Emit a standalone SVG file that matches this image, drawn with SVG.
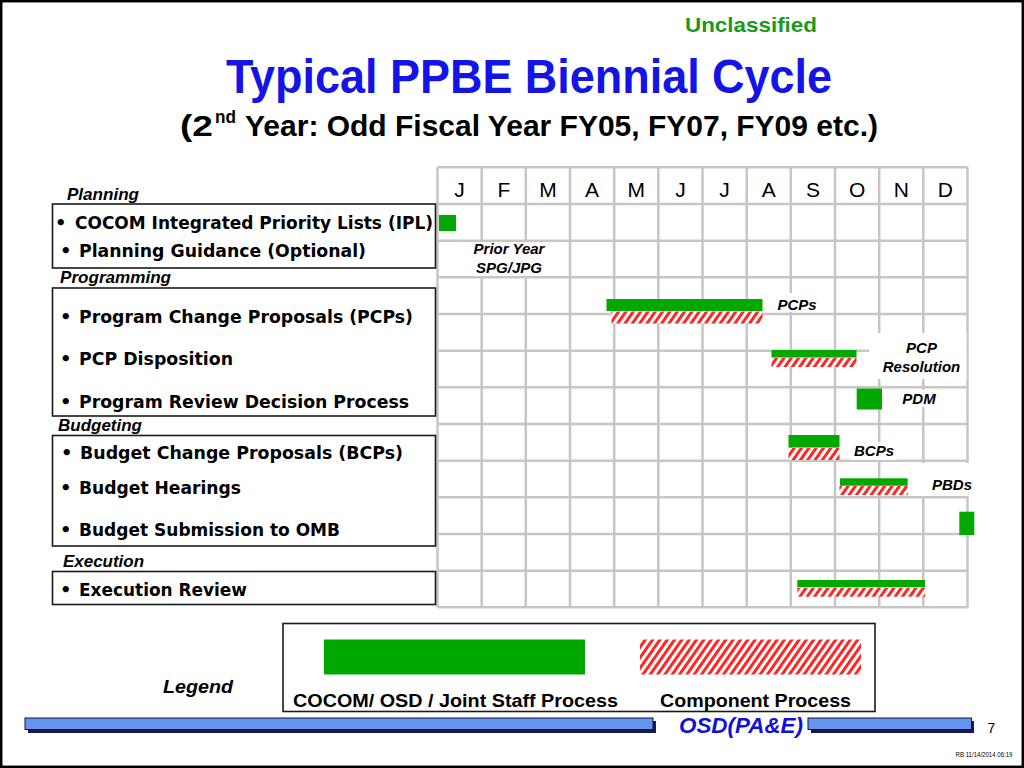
<svg xmlns="http://www.w3.org/2000/svg" width="1024" height="768" viewBox="0 0 1024 768">
<defs>
<pattern id="hatch" width="6" height="6" patternUnits="userSpaceOnUse" patternTransform="rotate(35)">
<rect width="6" height="6" fill="#ffffff"/>
<rect width="3" height="6" fill="#ff2626"/>
</pattern>
<style>
.grid line{stroke:#c6c6c6;stroke-width:2.5}
.box{fill:none;stroke:#1a1a1a;stroke-width:1.6}
.item{font-family:"DejaVu Sans","Liberation Sans",sans-serif;font-weight:bold;font-size:18px;fill:#000}
.head{font-family:"Liberation Sans",Arial,sans-serif;font-weight:bold;font-style:italic;font-size:17px;fill:#000}
.month{font-family:"Liberation Sans",Arial,sans-serif;font-size:21px;fill:#000;text-anchor:middle}
.lbl{font-family:"Liberation Sans",Arial,sans-serif;font-weight:bold;font-style:italic;font-size:15px;fill:#000;text-anchor:middle}
.g{fill:#00a800}
.h{fill:url(#hatch)}
.wb{fill:#ffffff}
.leg{font-family:"Liberation Sans",Arial,sans-serif;font-weight:bold;font-size:19px;fill:#000;text-anchor:middle}
.bar{fill:#6495ee;stroke:#10104a;stroke-width:1}
.shadow{fill:#1a1a50}
</style>
</defs>
<rect x="0" y="0" width="1024" height="768" fill="#ffffff"/>
<rect x="1.2" y="1.2" width="1021.6" height="765.6" fill="none" stroke="#000" stroke-width="2.5"/>

<g id="header">
<text x="751" y="32" font-family="Liberation Sans,Arial,sans-serif" font-weight="bold" font-size="21" fill="#1a9a1a" text-anchor="middle" textLength="132" lengthAdjust="spacingAndGlyphs">Unclassified</text>
<text x="529" y="93" font-family="Liberation Sans,Arial,sans-serif" font-weight="bold" font-size="48" fill="#1414e6" text-anchor="middle" textLength="606" lengthAdjust="spacingAndGlyphs">Typical PPBE Biennial Cycle</text>
<text x="180" y="136" font-family="Liberation Sans,Arial,sans-serif" font-weight="bold" font-size="30" fill="#000" textLength="33" lengthAdjust="spacingAndGlyphs">(2</text>
<text x="215" y="123" font-family="Liberation Sans,Arial,sans-serif" font-weight="bold" font-size="18" fill="#000" textLength="21" lengthAdjust="spacingAndGlyphs">nd</text>
<text x="245" y="136" font-family="Liberation Sans,Arial,sans-serif" font-weight="bold" font-size="30" fill="#000" textLength="633" lengthAdjust="spacingAndGlyphs">Year: Odd Fiscal Year FY05, FY07, FY09 etc.)</text>
</g>

<g id="grid" class="grid">
<line x1="437.5" y1="167.3" x2="437.5" y2="607.3"/>
<line x1="481.7" y1="167.3" x2="481.7" y2="607.3"/>
<line x1="525.8" y1="167.3" x2="525.8" y2="607.3"/>
<line x1="570" y1="167.3" x2="570" y2="607.3"/>
<line x1="614.2" y1="167.3" x2="614.2" y2="607.3"/>
<line x1="658.3" y1="167.3" x2="658.3" y2="607.3"/>
<line x1="702.5" y1="167.3" x2="702.5" y2="607.3"/>
<line x1="746.7" y1="167.3" x2="746.7" y2="607.3"/>
<line x1="790.8" y1="167.3" x2="790.8" y2="607.3"/>
<line x1="835" y1="167.3" x2="835" y2="607.3"/>
<line x1="879.2" y1="167.3" x2="879.2" y2="607.3"/>
<line x1="923.3" y1="167.3" x2="923.3" y2="607.3"/>
<line x1="967.5" y1="167.3" x2="967.5" y2="607.3"/>
<line x1="437.5" y1="167.3" x2="967.5" y2="167.3"/>
<line x1="437.5" y1="204" x2="967.5" y2="204"/>
<line x1="437.5" y1="240.7" x2="967.5" y2="240.7"/>
<line x1="437.5" y1="277.3" x2="967.5" y2="277.3"/>
<line x1="437.5" y1="314" x2="967.5" y2="314"/>
<line x1="437.5" y1="350.7" x2="967.5" y2="350.7"/>
<line x1="437.5" y1="387.3" x2="967.5" y2="387.3"/>
<line x1="437.5" y1="424" x2="967.5" y2="424"/>
<line x1="437.5" y1="460.7" x2="967.5" y2="460.7"/>
<line x1="437.5" y1="497.3" x2="967.5" y2="497.3"/>
<line x1="437.5" y1="534" x2="967.5" y2="534"/>
<line x1="437.5" y1="570.7" x2="967.5" y2="570.7"/>
<line x1="437.5" y1="607.3" x2="967.5" y2="607.3"/>
</g>

<g id="months">
<text class="month" x="459.6" y="197">J</text>
<text class="month" x="503.8" y="197">F</text>
<text class="month" x="547.9" y="197">M</text>
<text class="month" x="592.1" y="197">A</text>
<text class="month" x="636.3" y="197">M</text>
<text class="month" x="680.4" y="197">J</text>
<text class="month" x="724.6" y="197">J</text>
<text class="month" x="768.8" y="197">A</text>
<text class="month" x="812.9" y="197">S</text>
<text class="month" x="857.1" y="197">O</text>
<text class="month" x="901.3" y="197">N</text>
<text class="month" x="945.4" y="197">D</text>
</g>

<g id="planning">
<text class="head" x="67" y="200" textLength="72" lengthAdjust="spacingAndGlyphs">Planning</text>
<rect class="box" x="52.5" y="204" width="383" height="64"/>
<text class="item" x="55" y="229">•</text>
<text class="item" x="75" y="229" textLength="358" lengthAdjust="spacingAndGlyphs">COCOM Integrated Priority Lists (IPL)</text>
<text class="item" x="60" y="257">•</text>
<text class="item" x="79" y="257" textLength="287" lengthAdjust="spacingAndGlyphs">Planning  Guidance (Optional)</text>
</g>

<g id="programming">
<text class="head" x="60" y="283" textLength="111" lengthAdjust="spacingAndGlyphs">Programming</text>
<rect class="box" x="52.5" y="288" width="383" height="128"/>
<text class="item" x="60" y="323">•</text>
<text class="item" x="79" y="323" textLength="334" lengthAdjust="spacingAndGlyphs">Program Change Proposals (PCPs)</text>
<text class="item" x="60" y="365">•</text>
<text class="item" x="79" y="365" textLength="154" lengthAdjust="spacingAndGlyphs">PCP Disposition</text>
<text class="item" x="60" y="408">•</text>
<text class="item" x="79" y="408" textLength="330" lengthAdjust="spacingAndGlyphs">Program Review Decision Process</text>
</g>

<g id="budgeting">
<text class="head" x="58" y="431" textLength="84" lengthAdjust="spacingAndGlyphs">Budgeting</text>
<rect class="box" x="52.5" y="435.5" width="383" height="110.5"/>
<text class="item" x="61" y="459">•</text>
<text class="item" x="80" y="459" textLength="323" lengthAdjust="spacingAndGlyphs">Budget Change Proposals (BCPs)</text>
<text class="item" x="60" y="494">•</text>
<text class="item" x="79" y="494" textLength="162" lengthAdjust="spacingAndGlyphs">Budget Hearings</text>
<text class="item" x="60" y="536">•</text>
<text class="item" x="79" y="536" textLength="261" lengthAdjust="spacingAndGlyphs">Budget Submission to OMB</text>
</g>

<g id="execution">
<text class="head" x="63" y="567" textLength="81" lengthAdjust="spacingAndGlyphs">Execution</text>
<rect class="box" x="52.5" y="571.5" width="383" height="33"/>
<text class="item" x="60" y="596">•</text>
<text class="item" x="79" y="596" textLength="168" lengthAdjust="spacingAndGlyphs">Execution Review</text>
</g>

<g id="bars">
<rect class="g" x="439" y="215" width="17" height="16"/>
<g id="prior-year">
<rect class="wb" x="447" y="242" width="121" height="34"/>
<text class="lbl" x="509" y="254">Prior Year</text>
<text class="lbl" x="509" y="273">SPG/JPG</text>
</g>
<g id="pcps">
<rect class="g" x="606.5" y="299" width="156" height="12"/>
<rect class="h" x="611.5" y="311.5" width="151" height="12"/>
<rect class="wb" x="773" y="293" width="48" height="19"/>
<text class="lbl" x="797" y="310">PCPs</text>
</g>
<g id="pcp-resolution">
<rect class="g" x="771.5" y="350" width="85" height="7.5"/>
<rect class="h" x="771.5" y="358" width="85" height="9"/>
<rect class="wb" x="869" y="333" width="97.5" height="46"/>
<text class="lbl" x="921.5" y="353">PCP</text>
<text class="lbl" x="921.5" y="372">Resolution</text>
</g>
<g id="pdm">
<rect class="g" x="856.7" y="388.5" width="25.3" height="21"/>
<rect class="wb" x="897" y="390" width="46" height="17"/>
<text class="lbl" x="919" y="404">PDM</text>
</g>
<g id="bcps">
<rect class="g" x="788.5" y="435" width="51" height="12.5"/>
<rect class="h" x="788.5" y="448" width="51" height="12"/>
<rect class="wb" x="851" y="442" width="46" height="18"/>
<text class="lbl" x="874" y="456">BCPs</text>
</g>
<g id="pbds">
<rect class="g" x="840" y="478.3" width="67.7" height="7.4"/>
<rect class="h" x="839.5" y="486" width="68.2" height="9"/>
<rect class="wb" x="914" y="463" width="61" height="33"/>
<text class="lbl" x="952" y="490">PBDs</text>
</g>
<rect class="g" x="959.3" y="511.7" width="15" height="23.3"/>
<g id="exec-review">
<rect class="g" x="797.3" y="580" width="127.7" height="7.3"/>
<rect class="h" x="797.3" y="588" width="127.7" height="8.7"/>
</g>
</g>

<g id="legend">
<rect class="box" x="283" y="623.5" width="592" height="88"/>
<rect class="g" x="324" y="639.5" width="261" height="35"/>
<rect class="h" x="640" y="639.5" width="221" height="35"/>
<text class="leg" x="455.5" y="707" textLength="325" lengthAdjust="spacingAndGlyphs">COCOM/ OSD / Joint Staff Process</text>
<text class="leg" x="755.5" y="707" textLength="191" lengthAdjust="spacingAndGlyphs">Component Process</text>
<text x="163" y="693" font-family="Liberation Sans,Arial,sans-serif" font-weight="bold" font-style="italic" font-size="19" fill="#000" textLength="70" lengthAdjust="spacingAndGlyphs">Legend</text>
</g>

<g id="footer">
<rect class="shadow" x="28" y="721" width="628" height="12"/>
<rect class="bar" x="25" y="718" width="628" height="11.5"/>
<rect class="shadow" x="811" y="721" width="163" height="12"/>
<rect class="bar" x="808" y="718" width="163.5" height="11.5"/>
<text x="741" y="733" font-family="Liberation Sans,Arial,sans-serif" font-weight="bold" font-style="italic" font-size="22" fill="#1010d8" text-anchor="middle" textLength="124" lengthAdjust="spacingAndGlyphs">OSD(PA&amp;E)</text>
<text x="991.5" y="733" font-family="Liberation Sans,Arial,sans-serif" font-size="14" fill="#000" text-anchor="middle">7</text>
<text x="984" y="757" font-family="Liberation Sans,Arial,sans-serif" font-size="6.5" fill="#000" text-anchor="middle" textLength="57" lengthAdjust="spacingAndGlyphs">RB 11/14/2014 06:19</text>
</g>
</svg>
